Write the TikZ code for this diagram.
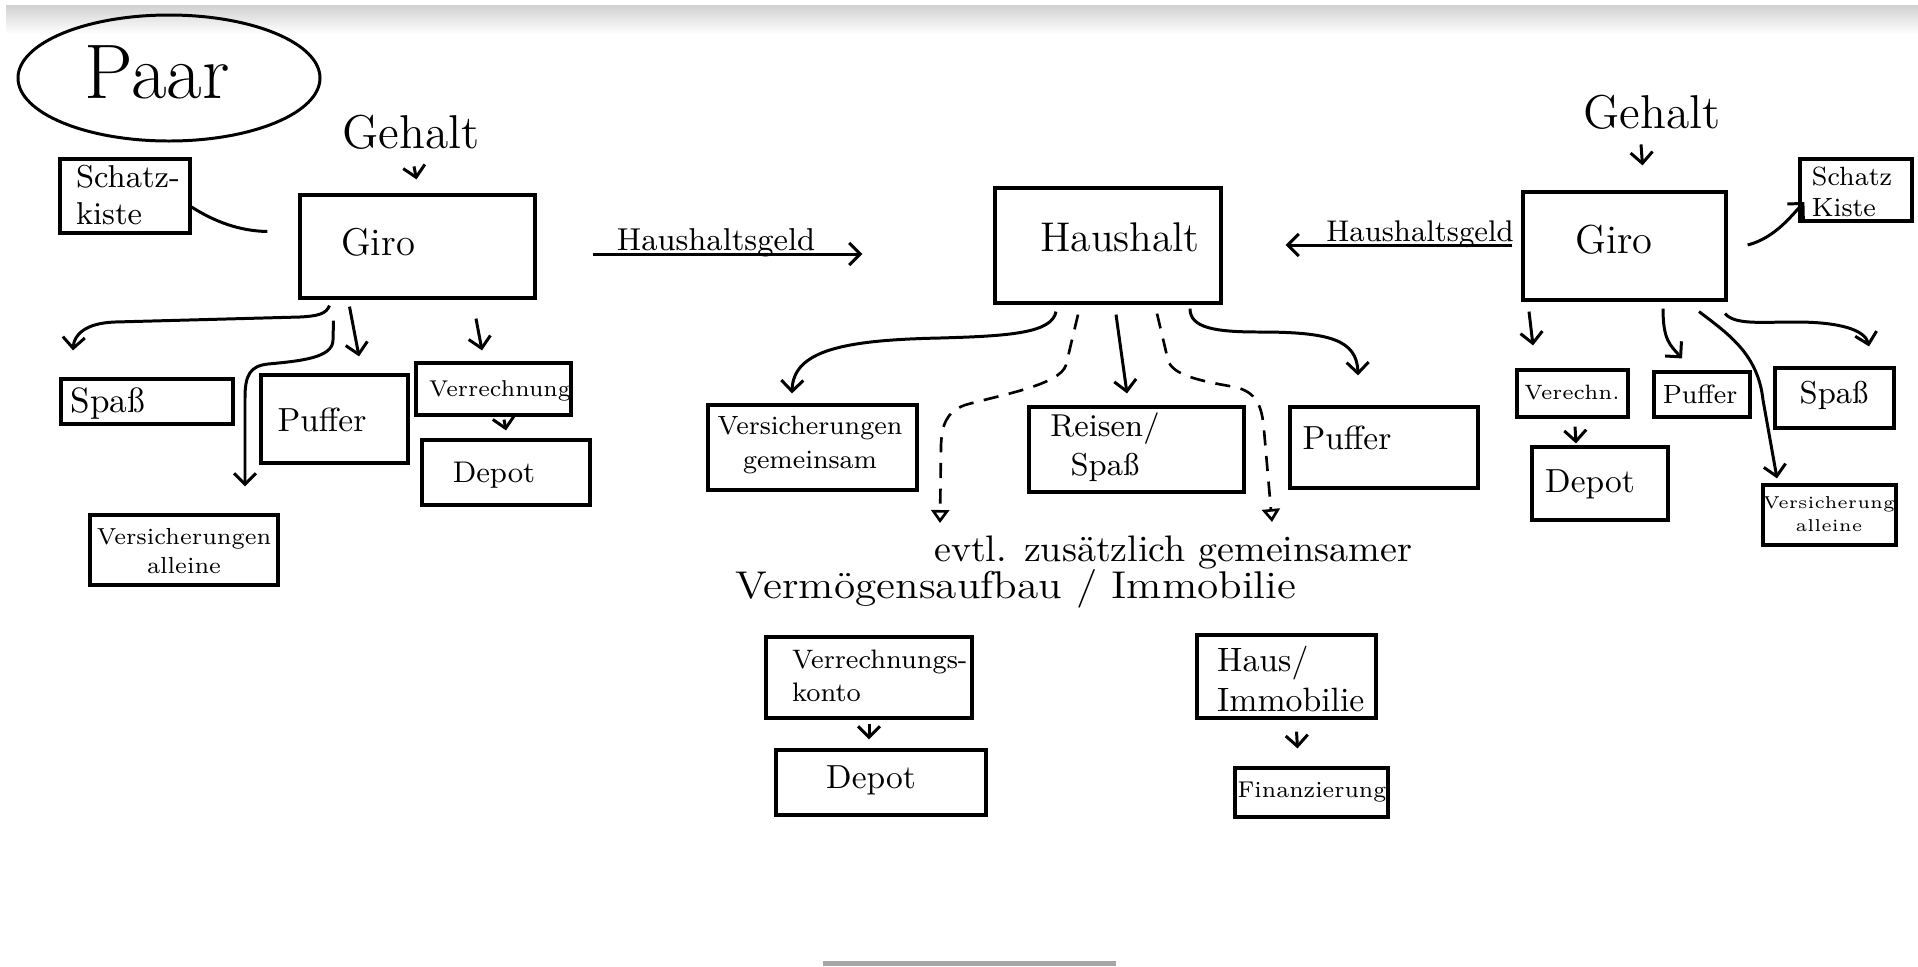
\documentclass[tikz,border=0pt]{standalone}
\usepackage{graphicx}
\usetikzlibrary{arrows.meta,calc}
\newcommand{\fsz}[2]{\fontsize{#1}{#2}\selectfont}
\begin{document}
\begin{tikzpicture}[x=0.01cm,y=-0.01cm,
  box/.style={draw,line width=0.9pt,inner sep=0pt},
  txt/.style={inner sep=1pt,align=center},
  line/.style={line width=0.85pt},
  arr/.style={line width=0.85pt,-{Straight Barb[length=1.1mm,width=2.2mm]}},
  darr/.style={line width=0.75pt,dash pattern=on 4.3pt off 3pt,-{Triangle[open,length=1.3mm,width=1.8mm]}}]
\useasboundingbox (0,0) rectangle (1918,966);
\fill[white] (0,0) rectangle (1918,966);
\shade[top color=black!18,bottom color=white] (6,5) rectangle (1918,34);
\fill[black!35] (823,961) rectangle (1116,966);

% Paar
\draw[line] (169,78) ellipse [x radius=151,y radius=63];
\node[txt,font={\fsz{22}{26}}] (paar) at (157,72) {Paar};

% left side
\node[txt,font={\fsz{13.5}{16}}] (gehaltL) at (411,132) {Gehalt};
\node[box,minimum width=1.30cm,minimum height=0.74cm] (schatzL) at (125,196) {};
\node[txt,align=left,font={\fsz{9}{10.5}}] (schatzLt) at (128,195) {Schatz-\\kiste};
\node[box,minimum width=2.35cm,minimum height=1.03cm] (giroL) at (417.5,246.5) {};
\node[txt,font={\fsz{11}{13}}] (giroLt) at (378,242) {Giro};
\node[box,minimum width=1.72cm,minimum height=0.45cm] (spassL) at (147,401.5) {};
\node[txt,font={\fsz{10}{12}}] (spassLt) at (108,404) {Spaß};
\node[box,minimum width=1.47cm,minimum height=0.88cm] (pufferL) at (334.5,419) {};
\node[txt,font={\fsz{9.5}{11}}] (pufferLt) at (322,420) {Puffer};
\node[box,minimum width=1.55cm,minimum height=0.52cm] (verrL) at (493.5,389) {};
\node[txt,font={\fsz{6.5}{7.5}}] (verrLt) at (500,391) {Verrechnung};
\node[box,minimum width=1.68cm,minimum height=0.65cm] (depotL) at (506,472.5) {};
\node[txt,font={\fsz{8.5}{10}}] (depotLt) at (494,475) {Depot};
\node[box,minimum width=1.88cm,minimum height=0.70cm] (versL) at (184,550) {};
\node[txt,font={\fsz{6.6}{8.5}}] (versLt) at (184,551) {Versicherungen\\alleine};

% Haushaltsgeld left
\node[txt,anchor=base,font={\fsz{9}{11}}] (hgL) at (716,250) {Haushaltsgeld};

% middle
\node[box,minimum width=2.26cm,minimum height=1.15cm] (hh) at (1108,245.5) {};
\node[txt,font={\fsz{11.8}{14}}] (hhT) at (1120,237) {Haushalt};
\node[box,minimum width=2.09cm,minimum height=0.85cm] (versG) at (812.5,447.5) {};
\node[txt,font={\fsz{7.5}{9.5}}] (versGt) at (810,445) {Versicherungen\\gemeinsam};
\node[box,minimum width=2.15cm,minimum height=0.85cm] (reisen) at (1136.5,449.5) {};
\node[txt,font={\fsz{9}{11}}] (reisenT) at (1105,447) {Reisen/\\Spaß};
\node[box,minimum width=1.88cm,minimum height=0.81cm] (pufferM) at (1384,447.5) {};
\node[txt,font={\fsz{9.5}{11}}] (pufferMt) at (1347,438) {Puffer};
\node[txt,anchor=base west,font={\fsz{10.5}{12}}] (evtl) at (930,561) {\scalebox{1.03}[1]{evtl. zusätzlich gemeinsamer}};
\node[txt,anchor=base west,font={\fsz{11}{13}}] (verm) at (731,598) {\scalebox{1.12}[1]{Vermögensaufbau / Immobilie}};
\coordinate (dL) at (940,523);
\coordinate (dR) at (1272,522);
\node[box,minimum width=2.06cm,minimum height=0.81cm] (verrK) at (869,677.5) {};
\node[txt,align=left,anchor=west,font={\fsz{7.6}{9.5}}] (verrKt) at (788,676) {Verrechnungs-\\konto};
\node[box,minimum width=2.10cm,minimum height=0.65cm] (depotM) at (881,782.5) {};
\node[txt,font={\fsz{9.5}{11}}] (depotMt) at (871,780) {Depot};
\node[box,minimum width=1.79cm,minimum height=0.83cm] (haus) at (1286.5,676.5) {};
\node[txt,align=left,anchor=west,font={\fsz{9.6}{11.5}}] (hausT) at (1213,679) {Haus/\\Immobilie};
\node[box,minimum width=1.53cm,minimum height=0.49cm] (finanz) at (1311.5,792.5) {};
\node[txt,font={\fsz{6.5}{8}}] (finanzT) at (1312,792) {Finanzierung};

% right side
\node[txt,font={\fsz{13.5}{16}}] (gehaltR) at (1652,112) {Gehalt};
\node[box,minimum width=2.03cm,minimum height=1.08cm] (giroR) at (1624.5,246) {};
\node[txt,font={\fsz{11.5}{14}}] (giroRt) at (1614,240) {Giro};
\node[txt,anchor=base,font={\fsz{8.5}{10}}] (hgR) at (1420,241) {Haushaltsgeld};
\node[box,minimum width=1.12cm,minimum height=0.62cm] (schatzR) at (1856,190) {};
\node[txt,align=left,font={\fsz{7.5}{9}}] (schatzRt) at (1852,192) {Schatz\\Kiste};
\node[box,minimum width=1.11cm,minimum height=0.47cm] (verrR) at (1572.5,393.5) {};
\node[txt,font={\fsz{5.9}{7}}] (verrRt) at (1572,393) {Verechn.};
\node[box,minimum width=1.36cm,minimum height=0.73cm] (depotR) at (1600,483.5) {};
\node[txt,font={\fsz{9.5}{11}}] (depotRt) at (1590,484) {Depot};
\node[box,minimum width=0.96cm,minimum height=0.45cm] (pufferR) at (1702,394.5) {};
\node[txt,font={\fsz{7.5}{9}}] (pufferRt) at (1700,394) {Puffer};
\node[box,minimum width=1.19cm,minimum height=0.60cm] (spassR) at (1834.5,398) {};
\node[txt,font={\fsz{9}{11}}] (spassRt) at (1834,395) {Spaß};
\node[box,minimum width=1.33cm,minimum height=0.60cm] (versR) at (1829.5,515) {};
\node[txt,font={\fsz{4.9}{6.5}}] (versRt) at (1829,514) {Versicherung\\alleine};

% connectors left
\draw[arr] ($(gehaltL.south)+(3,13)$) -- ($(giroL.north)+(-1,-14)$);
\draw[line] ($(schatzL.east)+(0,11)$) .. controls (215,222) and (240,231) .. ($(giroL.west)+(-31,-15)$);
\draw[arr] ($(giroL.east)+(56,7.5)$) -- ($(hh.west)+(-131,8.5)$);
\draw[arr] ($(giroL.south)+(-88,6)$) .. controls (326,314) and (318,316) .. (300,317) -- (115,322) .. controls (85,323) and (74,335) .. ($(spassL.north)+(-74,-27)$);
\draw[arr] ($(giroL.south)+(-84,21)$) -- (333,340) .. controls (333,358) and (300,361) .. (268,364) .. controls (250,366) and (245,375) .. (245,398) -- ($(versL.north)+(61,-27)$);
\draw[arr] ($(giroL.south)+(-68,7)$) -- ($(pufferL.north)+(24.5,-17)$);
\draw[arr] ($(giroL.south)+(58.5,19)$) -- ($(verrL.north)+(-11.5,-11)$);
\draw[arr] ($(verrL.south)+(10.5,3)$) -- ($(depotL.north)+(0,-8)$);

% connectors middle
\draw[arr] ($(hh.south)+(-52,7)$) .. controls (1052,333) and (1010,336) .. (940,338) .. controls (845,340) and (793,350) .. ($(versG.north)+(-20.5,-10)$);
\draw[darr] ($(hh.south)+(-30,10)$) -- (1066,365) .. controls (1060,385) and (1000,395) .. (965,405) .. controls (946,412) and (942,425) .. (941,445) -- (dL);
\draw[arr] ($(hh.south)+(8,10)$) -- ($(reisen.north)+(-9.5,-12)$);
\draw[darr] ($(hh.south)+(49,9)$) -- (1168,360) .. controls (1172,375) and (1200,381) .. (1235,387) .. controls (1256,392) and (1262,405) .. (1264,430) -- (dR);
\draw[arr] ($(hh.south)+(82,4)$) .. controls (1190,328) and (1215,332) .. (1260,332) .. controls (1330,332) and (1357,340) .. ($(pufferM.north)+(-26,-30)$);
\draw[arr] ($(verrK.south)+(0,4)$) -- ($(depotM.north)+(-12,-9)$);
\draw[arr] ($(haus.south)+(10,12)$) -- ($(finanz.north)+(-14,-18)$);

% connectors right
\draw[arr] ($(gehaltR.south)+(-11,11)$) -- ($(giroR.north)+(18,-25)$);
\draw[arr] ($(giroR.west)+(-9,-1)$) -- ($(hh.east)+(63,-0.5)$);
\draw[arr] ($(giroR.east)+(20,-1)$) .. controls (1775,238) and (1792,215) .. ($(schatzR.west)+(6,12)$);
\draw[arr] ($(giroR.south)+(-95.5,10)$) -- ($(verrR.north)+(-39.5,-23)$);
\draw[arr] ($(verrR.south)+(2.5,8)$) -- ($(depotR.north)+(-24,-2)$);
\draw[arr] ($(giroR.south)+(38.5,7)$) .. controls (1663,340) and (1670,345) .. ($(pufferR.north)+(-20,-12)$);
\draw[arr] ($(giroR.south)+(74.5,10)$) .. controls (1730,335) and (1758,355) .. (1763,400) -- ($(versR.north)+(-52.5,-5)$);
\draw[arr] ($(giroR.south)+(100.5,12)$) .. controls (1735,325) and (1760,322) .. (1796,322) .. controls (1840,322) and (1865,330) .. ($(spassR.north)+(34.5,-20)$);
\end{tikzpicture}
\end{document}
